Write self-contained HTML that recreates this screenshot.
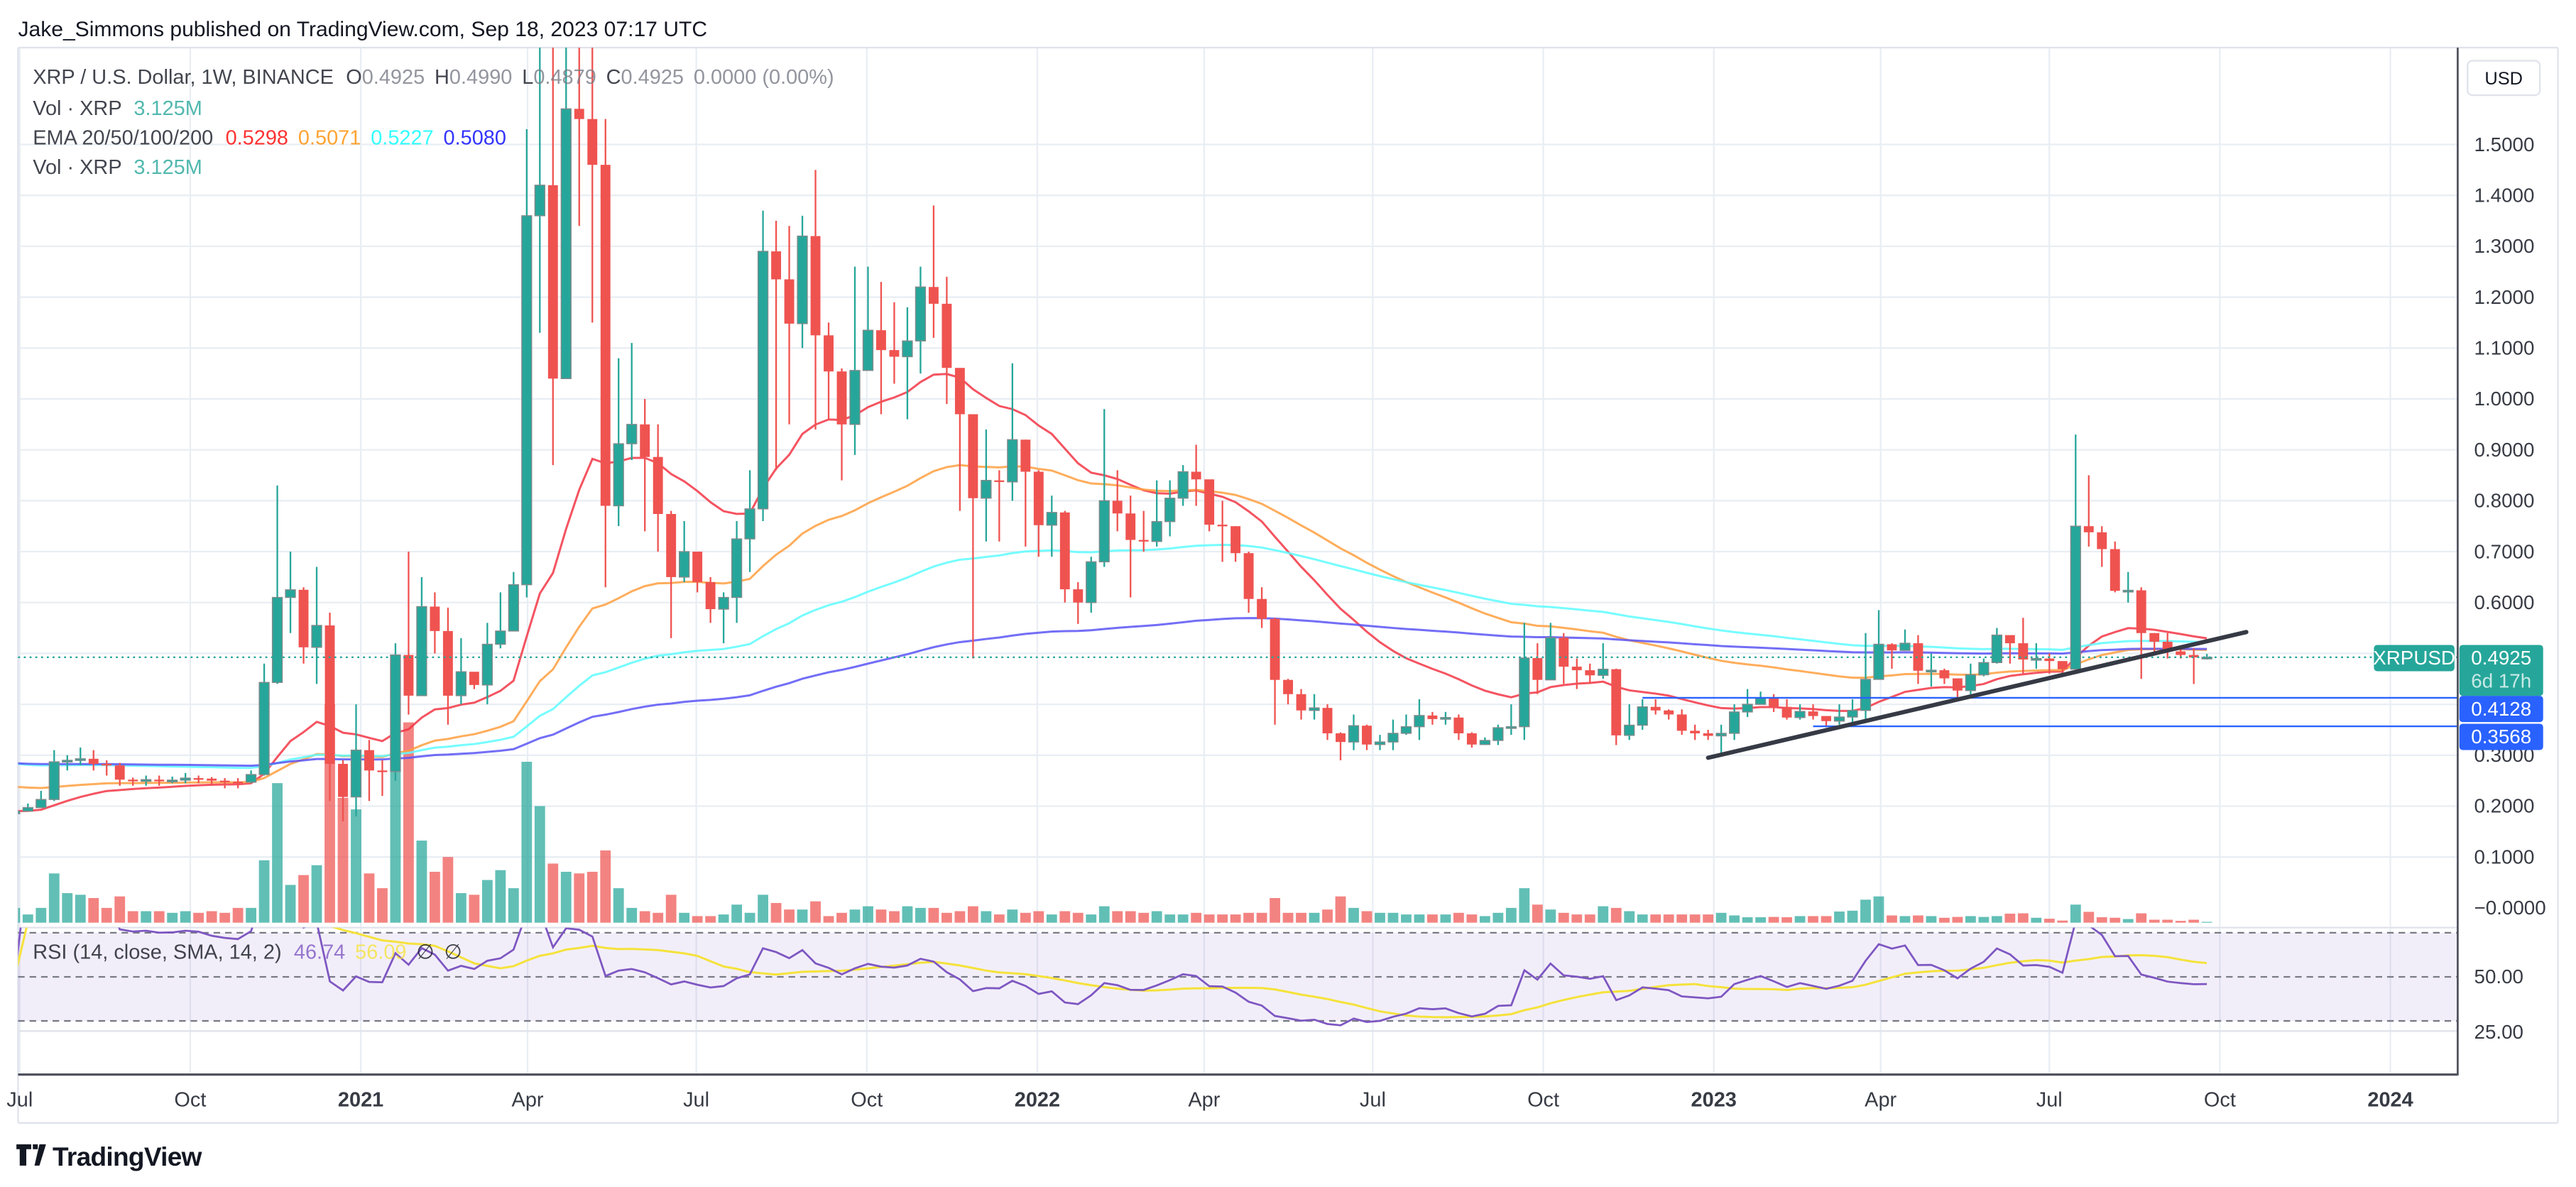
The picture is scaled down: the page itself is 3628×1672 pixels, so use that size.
<!DOCTYPE html>
<html><head><meta charset="utf-8"><style>
html,body{margin:0;padding:0;background:#fff;}
svg{display:block;font-family:"Liberation Sans",sans-serif;}
</style></head><body>
<svg id="chart" width="3628" height="1672" viewBox="0 0 1568 723" preserveAspectRatio="none" xmlns="http://www.w3.org/2000/svg">
<rect x="0" y="0" width="1568" height="723" fill="#ffffff"/>
<text x="11" y="22" font-size="13" fill="#131722">Jake_Simmons published on TradingView.com, Sep 18, 2023 07:17 UTC</text>
<g id="grid"></g>
<g id="volume"></g>
<g id="emas"></g>
<g id="candles"></g>
<g id="overlays"></g>
<g id="rsi"></g>
<g id="axes"></g>
<g font-size="12.5">
<text x="20" y="51" fill="#131722" fill-opacity="0.8">XRP / U.S. Dollar, 1W, BINANCE <tspan dx="4">O</tspan><tspan fill="#787b86">0.4925</tspan><tspan dx="6">H</tspan><tspan fill="#787b86">0.4990</tspan><tspan dx="6">L</tspan><tspan fill="#787b86">0.4879</tspan><tspan dx="6">C</tspan><tspan fill="#787b86">0.4925</tspan><tspan dx="6" fill="#787b86">0.0000 (0.00%)</tspan></text>
<text x="20" y="70" fill="#131722" fill-opacity="0.8">Vol · XRP <tspan dx="4" fill="#26a69a">3.125M</tspan></text>
<text x="20" y="88" fill="#131722" fill-opacity="0.8">EMA 20/50/100/200 <tspan dx="4" fill="#ff0000">0.5298</tspan><tspan dx="6" fill="#ff8c00">0.5071</tspan><tspan dx="6" fill="#00ffff">0.5227</tspan><tspan dx="6" fill="#0000ff">0.5080</tspan></text>
<text x="20" y="106" fill="#131722" fill-opacity="0.8">Vol · XRP <tspan dx="4" fill="#26a69a">3.125M</tspan></text>
<text x="20" y="584" fill="#131722" fill-opacity="0.8">RSI (14, close, SMA, 14, 2) <tspan dx="4" fill="#7e57c2">46.74</tspan><tspan dx="6" fill="#f5e23b">56.09</tspan><tspan dx="6">∅</tspan><tspan dx="6">∅</tspan></text>
</g>
<g>
<rect x="1502" y="37" width="44" height="21" rx="3" fill="#fff" stroke="#e0e3eb"/>
<text x="1524" y="51.5" font-size="11" text-anchor="middle" fill="#131722">USD</text>
</g>
<g>
<path d="M10 697h9v3h-3v10h-4v-10h-2z M20 697h3v3h-3z M24 697h4l-4 13h-3z" fill="#131722"/>
<text x="32" y="710" font-size="16" fill="#131722" font-weight="bold" letter-spacing="-0.3">TradingView</text>
</g>
</svg>
<script>
const closes=[.190,.197,.213,.287,.290,.293,.283,.280,.252,.250,.252,.250,.251,.255,.254,.250,.248,.247,.262,.443,.610,.625,.512,.555,.283,.218,.310,.270,.268,.497,.417,.592,.544,.417,.464,.438,.518,.544,.635,1.36,1.42,1.04,1.57,1.55,1.46,.79,.912,.95,.886,.774,.65,.70,.64,.587,.61,.725,.784,1.29,1.235,1.148,1.32,1.125,1.054,.95,1.056,1.135,1.096,1.083,1.114,1.22,1.187,1.061,.97,.805,.84,.837,.92,.857,.752,.777,.626,.60,.68,.80,.775,.723,.72,.759,.805,.857,.842,.753,.75,.697,.607,.568,.448,.42,.388,.393,.343,.326,.358,.321,.326,.343,.356,.378,.371,.374,.343,.321,.329,.354,.356,.491,.448,.531,.474,.467,.457,.469,.339,.359,.395,.388,.380,.348,.343,.338,.343,.385,.400,.413,.395,.374,.386,.377,.367,.375,.388,.449,.518,.506,.520,.466,.467,.451,.427,.458,.482,.536,.520,.488,.490,.485,.469,.750,.738,.705,.623,.624,.540,.523,.504,.497,.492,.4925];
const highs=[.20,.205,.23,.31,.30,.315,.31,.29,.285,.256,.26,.26,.258,.265,.26,.257,.255,.255,.27,.48,.83,.70,.63,.67,.58,.29,.40,.33,.29,.52,.70,.65,.62,.59,.53,.46,.56,.62,.66,1.53,1.96,1.70,1.75,1.75,1.75,1.55,1.08,1.11,1.0,.95,.78,.76,.70,.65,.62,.76,.86,1.37,1.35,1.34,1.36,1.45,1.15,1.06,1.26,1.26,1.23,1.19,1.18,1.26,1.38,1.24,1.0,.95,.94,.86,1.07,.92,.86,.81,.78,.64,.69,.98,.86,.81,.78,.84,.84,.87,.91,.84,.80,.75,.70,.63,.57,.45,.43,.42,.40,.345,.38,.36,.34,.37,.38,.41,.385,.385,.38,.345,.335,.36,.40,.56,.52,.56,.54,.49,.48,.52,.47,.40,.41,.41,.39,.39,.36,.35,.36,.40,.43,.425,.42,.41,.40,.40,.375,.40,.41,.54,.585,.52,.547,.536,.50,.47,.44,.48,.49,.55,.53,.57,.52,.50,.48,.93,.85,.75,.72,.66,.63,.54,.54,.51,.51,.499];
const lows=[.18,.19,.20,.21,.27,.28,.27,.26,.24,.24,.24,.24,.245,.245,.245,.24,.235,.235,.245,.26,.44,.54,.48,.44,.21,.17,.18,.21,.22,.25,.38,.42,.50,.36,.40,.43,.40,.51,.58,.61,1.13,.87,1.04,1.34,1.15,.63,.75,.88,.74,.70,.53,.64,.62,.56,.52,.56,.66,.76,.86,.95,1.1,.94,.96,.84,.89,1.06,.97,1.03,.96,1.05,1.12,.99,.78,.49,.72,.72,.80,.71,.69,.69,.60,.558,.58,.67,.74,.61,.70,.71,.73,.79,.79,.74,.68,.68,.58,.55,.36,.40,.37,.37,.33,.29,.31,.31,.31,.31,.34,.33,.36,.36,.33,.315,.32,.32,.34,.33,.42,.47,.44,.43,.44,.45,.32,.33,.35,.38,.37,.34,.33,.33,.30,.33,.375,.40,.385,.37,.37,.37,.355,.36,.36,.37,.51,.47,.51,.44,.435,.44,.41,.42,.455,.48,.48,.46,.47,.46,.46,.47,.71,.67,.62,.60,.45,.50,.49,.49,.44,.488];
const volumes=[9,5,9,30,18,17,15,9,16,7,7,7,6,7,6,7,6,9,9,38,85,23,29,35,133,76,69,30,21,120,122,50,31,40,18,17,26,32,21,98,71,36,31,30,31,44,21,9,7,6,17,6,4,4,5,11,6,17,12,8,8,13,4,6,8,10,8,7,10,9,9,6,7,10,7,5,8,6,7,5,7,6,5,10,7,7,6,7,5,5,6,5,5,5,6,6,15,6,6,6,8,16,9,7,6,6,5,5,5,5,6,5,4,6,9,21,11,8,6,5,5,10,9,7,5,5,5,5,5,5,6,4.4,3.3,3.3,3.5,3.3,4,4,4,6.8,7.3,14,16,4.4,4,4.4,4,3,3.5,4,3.5,4,5.5,5.7,3,2.4,1.3,11,6.6,3.3,3,2.2,5.7,1.8,1.8,1.1,1.8,0.5];
const firstOpen=0.185;
const priceTicks=[1.5,1.4,1.3,1.2,1.1,1.0,0.9,0.8,0.7,0.6,0.5,0.4,0.3,0.2,0.1,0.0];
const dateLabels=["Jul","Oct","2021","Apr","Jul","Oct","2022","Apr","Jul","Oct","2023","Apr","Jul","Oct","2024"];
const dateValues=["2020-07-01","2020-10-01","2021-01-01","2021-04-01","2021-07-01","2021-10-01","2022-01-01","2022-04-01","2022-07-01","2022-10-01","2023-01-01","2023-04-01","2023-07-01","2023-10-01","2024-01-01"];
const rsiTicks=[50,25];
const emaPeriods=[20,50,100,200];
const emaSeeds=[0.19,0.24,0.285,0.285];
const emaColors=["#f23645","#ff9f3f","#5efcff","#5b55f5"];
const lastPrice=0.4925;
const levels=[0.4128,0.3568];
const levelStart=[124,137];
const trendIdx=[129,170];
const trendPrice=[0.295,0.542];

const NS="http://www.w3.org/2000/svg";
function mk(tag,attrs,parent){const e=document.createElementNS(NS,tag);for(const k in attrs)e.setAttribute(k,attrs[k]);parent.appendChild(e);return e;}
const X0=9,STEP=7.99,PLEFT=11,PRIGHT=1496,PTOP=29,VBASE=562;
const xi=i=>X0+i*STEP;
const yp=p=>553-p*310;
const dayPx=1443/1279;
const xd=s=>12+(Date.parse(s)-Date.parse("2020-07-01"))/86400000*dayPx;
const yr=r=>595-(r-50)*1.3425;

const grid=document.getElementById('grid');
priceTicks.forEach(p=>{if(p>0){const l=mk('line',{x1:PLEFT,x2:PRIGHT,y1:yp(p),y2:yp(p),stroke:'#e9eef4','stroke-width':1},grid);

}});
dateValues.forEach(d=>{const x=xd(d);const l=mk('line',{x1:x,x2:x,y1:PTOP,y2:654,stroke:'#e9eef4','stroke-width':1},grid);

});
mk('line',{x1:PLEFT,x2:1557,y1:PTOP,y2:PTOP,stroke:'#e0e3eb'},grid);
mk('line',{x1:PLEFT,x2:PLEFT,y1:PTOP,y2:684,stroke:'#e0e3eb'},grid);
mk('line',{x1:1557,x2:1557,y1:PTOP,y2:684,stroke:'#e0e3eb'},grid);
mk('line',{x1:PLEFT,x2:1557,y1:684,y2:684,stroke:'#e0e3eb'},grid);
mk('line',{x1:PLEFT,x2:PRIGHT,y1:565,y2:565,stroke:'#e0e3eb'},grid);
mk('line',{x1:PLEFT,x2:PRIGHT,y1:628,y2:628,stroke:'#e0e3eb'},grid);

const opens=closes.map((c,i)=>i?closes[i-1]:firstOpen);

const clipDefs=mk('defs',{},document.getElementById('chart'));
const cp=mk('clipPath',{id:'mainclip'},clipDefs);
mk('rect',{x:PLEFT,y:PTOP,width:PRIGHT-PLEFT,height:VBASE-PTOP+1},cp);
const cp2=mk('clipPath',{id:'rsiclip'},clipDefs);
mk('rect',{x:PLEFT,y:565,width:PRIGHT-PLEFT,height:63},cp2);

const vg=document.getElementById('volume');
vg.setAttribute('clip-path','url(#mainclip)');
volumes.forEach((v,i)=>{const up=closes[i]>=opens[i];
const r=mk('rect',{x:xi(i)-3.2,y:VBASE-v,width:6.4,height:v,fill:up?'#26a69a':'#ef5350','fill-opacity':0.72},vg);

});

const eg=document.getElementById('emas');
eg.setAttribute('clip-path','url(#mainclip)');
emaPeriods.forEach((n,k)=>{const a=2/(n+1);let e=emaSeeds[k];const pts=[];
closes.forEach((c,i)=>{e=a*c+(1-a)*e;pts.push(xi(i).toFixed(1)+','+yp(e).toFixed(1));});
const pl=mk('polyline',{points:pts.join(' '),fill:'none',stroke:emaColors[k],'stroke-width':1.3,'stroke-opacity':0.85},eg);

});

const cg=document.getElementById('candles');
cg.setAttribute('clip-path','url(#mainclip)');
closes.forEach((c,i)=>{const o=opens[i];const up=c>=o;const col=up?'#26a69a':'#ef5350';const x=xi(i);
const g=mk('g',{},cg);


mk('line',{x1:x,x2:x,y1:yp(highs[i]),y2:yp(lows[i]),stroke:col,'stroke-width':1},g);
const top=yp(Math.max(o,c)),bot=yp(Math.min(o,c));
mk('rect',{x:x-3,y:top,width:6,height:Math.max(1,bot-top),fill:col,stroke:up?'#7f8a8a':'none','stroke-width':0.6},g);});

const og=document.getElementById('overlays');
const pline=mk('line',{x1:PLEFT,x2:PRIGHT,y1:yp(lastPrice),y2:yp(lastPrice),stroke:'#26a69a','stroke-width':1,'stroke-dasharray':'1.2 2.3'},og);


levels.forEach((lv,k)=>{const l=mk('line',{x1:xi(levelStart[k]),x2:PRIGHT,y1:yp(lv),y2:yp(lv),stroke:'#2962ff','stroke-width':1},og);

});
const tl=mk('line',{x1:xi(trendIdx[0]),y1:yp(trendPrice[0]),x2:xi(trendIdx[1]),y2:yp(trendPrice[1]),stroke:'#363a45','stroke-width':2.6,'stroke-linecap':'round'},og);



// RSI
const rg=document.getElementById('rsi');
const band=mk('rect',{x:PLEFT,y:yr(70),width:PRIGHT-PLEFT,height:yr(30)-yr(70),fill:'#7e57c2','fill-opacity':0.1},rg);


[70,50,30].forEach(v=>{const l=mk('line',{x1:PLEFT,x2:PRIGHT,y1:yr(v),y2:yr(v),stroke:'#787b86','stroke-width':1,'stroke-dasharray':'4 3'},rg);

});
const rsi=[];let ag=0,al=0;
for(let i=1;i<closes.length;i++){const d=closes[i]-closes[i-1];const g=Math.max(d,0),l=Math.max(-d,0);
if(i<=14){ag=(ag*(i-1)+g)/i;al=(al*(i-1)+l)/i;}else{ag=(ag*13+g)/14;al=(al*13+l)/14;}
rsi[i]=al===0?100:100-100/(1+ag/al);}
rsi[0]=50;
const rinner=mk('g',{'clip-path':'url(#rsiclip)'},rg);
const sma=[];for(let i=0;i<rsi.length;i++){const s=Math.max(0,i-13);let t=0;for(let j=s;j<=i;j++)t+=rsi[j];sma[i]=t/(i-s+1);}
const sl=mk('polyline',{points:sma.map((v,i)=>xi(i).toFixed(1)+','+yr(v).toFixed(1)).join(' '),fill:'none',stroke:'#f5e23b','stroke-width':1.3},rinner);


const rl=mk('polyline',{points:rsi.map((v,i)=>xi(i).toFixed(1)+','+yr(v).toFixed(1)).join(' '),fill:'none',stroke:'#7e57c2','stroke-width':1.2},rinner);



// Axes
const ax=document.getElementById('axes');
mk('line',{x1:PRIGHT,x2:PRIGHT,y1:PTOP,y2:655,stroke:'#50535e','stroke-width':1.2},ax);
mk('line',{x1:PLEFT,x2:PRIGHT,y1:654.5,y2:654.5,stroke:'#50535e','stroke-width':1.4},ax);
priceTicks.forEach(p=>{const t=mk('text',{x:1506,y:yp(p)+4,'font-size':12,fill:'#131722','fill-opacity':0.85},ax);
t.textContent=p===0?'−0.0000':p.toFixed(4);

});
rsiTicks.forEach(v=>{const t=mk('text',{x:1506,y:yr(v)+4,'font-size':12,fill:'#131722','fill-opacity':0.85},ax);
t.textContent=v.toFixed(2);

});
dateLabels.forEach((lb,k)=>{const t=mk('text',{x:xd(dateValues[k]),y:674,'font-size':12.5,'text-anchor':'middle',fill:'#131722','fill-opacity':0.85,'font-weight':/^\d/.test(lb)?'bold':'normal'},ax);
t.textContent=lb;

});
// badges
function badge(x,y,w,h,fill,lines,name){const g=mk('g',{},ax);


mk('rect',{x:x,y:y,width:w,height:h,rx:2,fill:fill},g);
lines.forEach((ln,k)=>{const t=mk('text',{x:x+w/2,y:y+12+k*14,'font-size':12,'text-anchor':'middle',fill:'#fff','fill-opacity':k?0.75:1},g);t.textContent=ln;});}
const ly=yp(lastPrice)-7.5;
badge(1445,ly,49,16,'#26a69a',['XRPUSD'],'symbol-badge');
badge(1497,ly,51,31,'#26a69a',[lastPrice.toFixed(4),'6d 17h'],'last-price-badge');
badge(1497,ly+31,51,16,'#2962ff',[levels[0].toFixed(4)],'level-badge');
badge(1497,ly+48,51,16,'#2962ff',[levels[1].toFixed(4)],'level-badge');
</script>
</body></html>
